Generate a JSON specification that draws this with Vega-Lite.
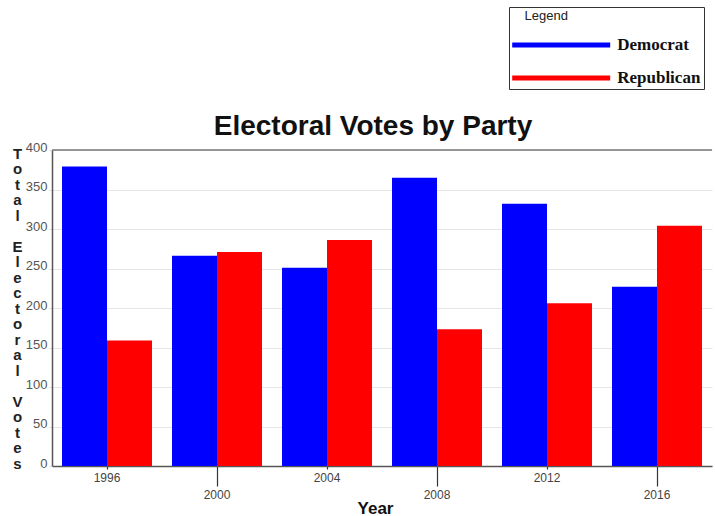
{
  "$schema": "https://vega.github.io/schema/vega-lite/v6.json",
  "width": 660,
  "height": 316,
  "autosize": {"type": "none"},
  "padding": {"left": 52, "top": 150, "right": 3, "bottom": 50},
  "background": "white",
  "title": {
    "text": "Electoral Votes by Party",
    "font": "Liberation Sans",
    "fontSize": 28,
    "fontWeight": "bold",
    "color": "#111111",
    "anchor": "middle",
    "frame": "group",
    "dx": -9,
    "offset": -134
  },
  "config": {
    "view": {"stroke": null},
    "axisY": {
      "values": [0, 50, 100, 150, 200, 250, 300, 350, 400],
      "tickCount": 9,
      "labelOverlap": false,
      "labelFont": "Liberation Sans",
      "labelFontSize": 13,
      "labelColor": "#555555",
      "labelPadding": 2,
      "labelOffset": -3,
      "ticks": true,
      "tickSize": 3,
      "tickColor": "#dddddd",
      "domainColor": "#555555",
      "domainWidth": 1.5,
      "grid": true,
      "gridColor": "#e6e6e6",
      "gridWidth": 1
    }
  },
  "data": {
    "values": [
      {"Year": "1996", "Party": "Democrat", "Votes": 379},
      {"Year": "1996", "Party": "Republican", "Votes": 159},
      {"Year": "2000", "Party": "Democrat", "Votes": 266},
      {"Year": "2000", "Party": "Republican", "Votes": 271},
      {"Year": "2004", "Party": "Democrat", "Votes": 251},
      {"Year": "2004", "Party": "Republican", "Votes": 286},
      {"Year": "2008", "Party": "Democrat", "Votes": 365},
      {"Year": "2008", "Party": "Republican", "Votes": 173},
      {"Year": "2012", "Party": "Democrat", "Votes": 332},
      {"Year": "2012", "Party": "Republican", "Votes": 206},
      {"Year": "2016", "Party": "Democrat", "Votes": 227},
      {"Year": "2016", "Party": "Republican", "Votes": 304}
    ]
  },
  "layer": [
    {
      "mark": {"type": "bar"},
      "encoding": {
        "x": {
          "field": "Year",
          "type": "nominal",
          "scale": {"paddingInner": 0.182, "paddingOuter": 0.091},
          "axis": {
            "title": "Year",
            "titleFont": "Liberation Sans",
            "titleFontSize": 17,
            "titleFontWeight": "bold",
            "titleColor": "#111111",
            "titleX": 323,
            "titleY": 47,
            "titleAlign": "center",
            "titleBaseline": "alphabetic",
            "titleAnchor": null,
            "labelAngle": 0,
            "labelFont": "Liberation Sans",
            "labelFontSize": 12,
            "labelColor": "#444444",
            "labelBaseline": "top",
            "labelPadding": 3,
            "labelOverlap": false,
            "domainColor": "#555555",
            "domainWidth": 1.5,
            "tickColor": "#333333",
            "tickWidth": 1.2,
            "tickSize": {"condition": {"test": "indexof(['2000','2008','2016'], datum.value) >= 0", "value": 20}, "value": 3},
            "grid": false
          }
        },
        "xOffset": {"field": "Party", "sort": ["Democrat", "Republican"]},
        "y": {
          "field": "Votes",
          "type": "quantitative",
          "scale": {"domain": [0, 400], "nice": false},
          "axis": {
            "values": [0, 50, 100, 150, 200, 250, 300, 350, 400],
            "labelOverlap": false,
            "title": ["T", "o", "t", "a", "l", "\u2800", "E", "l", "e", "c", "t", "o", "r", "a", "l", "\u2800", "V", "o", "t", "e", "s"],
            "titleAngle": 0,
            "titleAlign": "center",
            "titleBaseline": "alphabetic",
            "titleX": -35,
            "titleY": 8,
            "titleFont": "Liberation Sans",
            "titleFontSize": 15,
            "titleFontWeight": "bold",
            "titleLineHeight": 15.5,
            "titleColor": "#222222"
          }
        },
        "color": {
          "field": "Party",
          "type": "nominal",
          "scale": {"domain": ["Democrat", "Republican"], "range": ["#0000ff", "#ff0000"]},
          "legend": {
            "title": "\u2800\u2009Legend",
            "orient": "none",
            "legendX": 457,
            "legendY": -143,
            "direction": "vertical",
            "fillColor": "white",
            "strokeColor": "#333333",
            "padding": 3,
            "titleFont": "Liberation Sans",
            "titleFontSize": 13,
            "titleFontWeight": "normal",
            "titleColor": "#222222",
            "titlePadding": 12,
            "symbolType": "M-5,-0.25H5V0.25H-5Z",
            "symbolSize": 384,
            "symbolOffset": 39.2,
            "symbolStrokeWidth": 0,
            "symbolOpacity": 1,
            "labelFont": "Liberation Serif",
            "labelFontSize": 17,
            "labelFontWeight": "bold",
            "labelColor": "#111111",
            "labelOffset": 46,
            "rowPadding": 15
          }
        }
      }
    },
    {
      "data": {"values": [{}]},
      "mark": {"type": "rule", "color": "#777777", "strokeWidth": 1.5},
      "encoding": {"y": {"datum": 400}}
    }
  ]
}
